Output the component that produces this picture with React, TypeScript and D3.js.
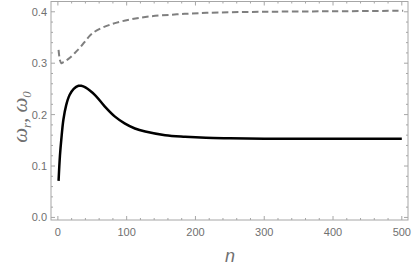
import React, { useEffect, useRef } from 'react';
import * as d3 from 'd3';

// solid curve (omega_r)
const nSolid = [1, 3, 5, 8, 12, 17, 23, 30, 34, 40, 54, 68, 83, 97, 112, 127, 156, 185, 215, 250, 300, 400, 500];
const wSolid = [0.071, 0.12, 0.152, 0.19, 0.218, 0.238, 0.25, 0.256, 0.256, 0.253, 0.238, 0.216, 0.196, 0.183, 0.173, 0.167, 0.16, 0.157, 0.155, 0.154, 0.153, 0.153, 0.153];

// dashed curve (omega_0)
const nDash = [1, 3, 5, 8, 12, 17, 24, 32, 51, 76, 105, 134, 173, 216, 300, 400, 502];
const wDash = [0.326, 0.306, 0.3, 0.302, 0.305, 0.31, 0.319, 0.33, 0.359, 0.375, 0.385, 0.391, 0.395, 0.398, 0.4, 0.401, 0.402];

const xMajor = [0, 100, 200, 300, 400, 500];
const yMajor = [0.0, 0.1, 0.2, 0.3, 0.4];

export default function App() {
  const svgRef = useRef<SVGSVGElement>(null);

  useEffect(() => {
    const svg = d3.select(svgRef.current);
    svg.selectAll('*').remove();

    const left = 51, right = 408, top = 1.5, bottom = 220;
    const x = d3.scaleLinear().domain([-10, 509]).range([left, right]);
    const y = d3.scaleLinear().domain([-0.005, 0.42]).range([bottom, top]);

    const frame = '#a6a6a6';
    const labelColor = '#707070';

    // frame
    svg.append('rect')
      .attr('x', left).attr('y', top)
      .attr('width', right - left).attr('height', bottom - top)
      .attr('fill', 'none').attr('stroke', frame).attr('stroke-width', 1);

    // ticks
    const xMinor = d3.range(0, 501, 20).filter(v => v % 100 !== 0);
    const yMinor = d3.range(0, 0.42, 0.02).filter((v, i) => i % 5 !== 0);

    const tickG = svg.append('g').attr('stroke', frame).attr('stroke-width', 1);
    xMajor.forEach(v => {
      tickG.append('line').attr('x1', x(v)).attr('x2', x(v)).attr('y1', bottom).attr('y2', bottom - 4);
      tickG.append('line').attr('x1', x(v)).attr('x2', x(v)).attr('y1', top).attr('y2', top + 4);
    });
    xMinor.forEach(v => {
      tickG.append('line').attr('x1', x(v)).attr('x2', x(v)).attr('y1', bottom).attr('y2', bottom - 2);
      tickG.append('line').attr('x1', x(v)).attr('x2', x(v)).attr('y1', top).attr('y2', top + 2);
    });
    yMajor.forEach(v => {
      tickG.append('line').attr('x1', left).attr('x2', left + 4).attr('y1', y(v)).attr('y2', y(v));
      tickG.append('line').attr('x1', right).attr('x2', right - 4).attr('y1', y(v)).attr('y2', y(v));
    });
    yMinor.forEach(v => {
      tickG.append('line').attr('x1', left).attr('x2', left + 2).attr('y1', y(v)).attr('y2', y(v));
      tickG.append('line').attr('x1', right).attr('x2', right - 2).attr('y1', y(v)).attr('y2', y(v));
    });

    // tick labels
    svg.append('g').selectAll('text').data(xMajor).join('text')
      .attr('x', d => x(d)).attr('y', bottom + 16)
      .attr('text-anchor', 'middle')
      .attr('font-family', 'Liberation Sans, Arial, sans-serif')
      .attr('font-size', 11).attr('fill', labelColor)
      .text(d => String(d));

    svg.append('g').selectAll('text').data(yMajor).join('text')
      .attr('x', left - 4).attr('y', d => y(d) + 4)
      .attr('text-anchor', 'end')
      .attr('font-family', 'Liberation Sans, Arial, sans-serif')
      .attr('font-size', 11).attr('fill', labelColor)
      .text(d => d.toFixed(1));

    // curves
    const line = d3.line<[number, number]>()
      .x(d => x(d[0])).y(d => y(d[1]))
      .curve(d3.curveCatmullRom.alpha(0.5));

    svg.append('path')
      .datum(nDash.map((n, i) => [n, wDash[i]] as [number, number]))
      .attr('fill', 'none').attr('stroke', '#7f7f7f')
      .attr('stroke-width', 2).attr('stroke-dasharray', '6.5,3.5')
      .attr('d', line);

    svg.append('path')
      .datum(nSolid.map((n, i) => [n, wSolid[i]] as [number, number]))
      .attr('fill', 'none').attr('stroke', '#000')
      .attr('stroke-width', 2.5)
      .attr('d', line);

    // axis labels
    svg.append('text')
      .attr('x', 230).attr('y', 262)
      .attr('text-anchor', 'middle')
      .attr('font-family', 'Liberation Sans, Arial, sans-serif')
      .attr('font-style', 'italic').attr('font-size', 18)
      .attr('fill', labelColor)
      .text('n');

    const yl = svg.append('text')
      .attr('transform', `translate(27,117) rotate(-90)`)
      .attr('text-anchor', 'middle')
      .attr('font-family', 'Liberation Serif, Times New Roman, serif')
      .attr('font-style', 'italic').attr('font-size', 21)
      .attr('fill', labelColor);
    yl.append('tspan').text('ω');
    yl.append('tspan').attr('font-size', 13).attr('dy', 4).text('r');
    yl.append('tspan').attr('dy', -4).text(',  ω');
    yl.append('tspan').attr('font-size', 13).attr('dy', 4).text('0');
  }, []);

  return (
    <svg ref={svgRef} width={412} height={273}
      style={{ position: 'absolute', left: 0, top: 0, background: '#fff' }} />
  );
}
